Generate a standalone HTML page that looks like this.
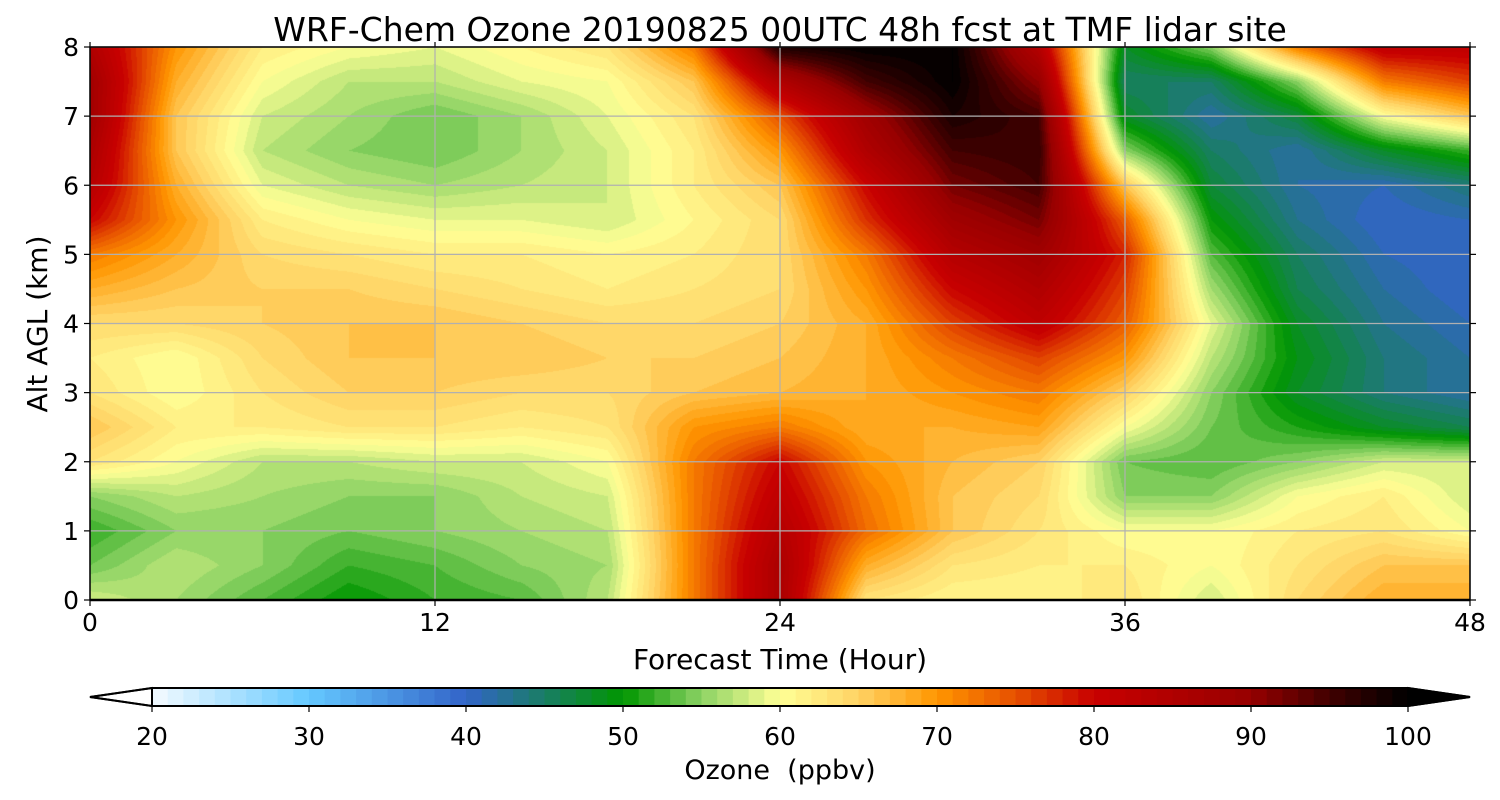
<!DOCTYPE html>
<html><head><meta charset="utf-8">
<style>
body{margin:0;background:#fff;width:1500px;height:800px;overflow:hidden;font-family:"DejaVu Sans","Liberation Sans",sans-serif;}
#wrap{position:relative;width:1500px;height:800px;}
canvas{position:absolute;left:90px;top:47px;}
svg{position:absolute;left:0;top:0;font-family:"DejaVu Sans","Liberation Sans",sans-serif;}
</style></head><body>
<div id="wrap">
<canvas id="cv" width="1380" height="553"></canvas>
<svg id="sv" width="1500" height="800"></svg>
</div>
<script>
const times=[0,3,6,9,12,15,18,21,24,27,30,33,36,39,42,45,48];
const alts=[8,7.5,7,6.5,6,5.5,5,4.5,4,3.5,3,2.5,2,1.5,1,0.5,0];
const ozone=[
[85,70,62,60,59,61,63,72,98,100,100,84,48,55,72,82,82],
[88,68,60,57,57,59,60,66,85,95,100,90,45,45,55,72,76],
[88,66,58,56,54,56,59,63,75,88,98,95,48,42,47,60,66],
[86,66,57,55,54,56,58,62,70,85,95,96,55,45,42,48,52],
[84,68,59,57,56,57,58,62,66,80,92,95,66,47,42,41,44],
[80,70,62,60,59,59,58,61,64,77,88,92,74,50,43,40,41],
[72,68,64,63,62,62,61,62,64,72,84,88,78,53,45,41,40],
[68,66,65,65,64,63,62,63,64,70,80,85,76,56,46,42,40],
[64,64,65,66,66,65,64,64,65,68,76,82,74,59,48,43,41],
[62,60,64,66,66,66,65,65,66,68,72,76,70,57,49,44,42],
[63,60,63,65,65,64,64,66,67,68,70,72,65,55,48,44,42],
[66,62,62,63,63,62,63,70,72,68,68,69,60,54,51,48,46],
[63,60,57,57,58,58,60,72,80,70,67,65,54,53,55,58,58],
[55,57,56,55,55,57,58,72,82,72,66,64,55,55,60,62,58],
[52,55,55,54,55,56,57,72,84,73,66,63,60,60,62,63,60],
[54,57,55,52,53,55,56,72,86,68,63,62,62,60,63,66,66],
[58,56,53,50,52,53,57,72,86,63,61,61,63,58,64,68,68]];
const xTicks=[0,12,24,36,48];
const yTicks=[0,1,2,3,4,5,6,7,8];
const cbTicks=[20,30,40,50,60,70,80,90,100];
const cmapV=[20,30,40,50,55,60,65,70,75,80,90,95,100];
const cmapC=['#f5faff','#64c8ff','#3264c8','#009600','#8cd264','#ffff96','#ffd264','#ff9600','#e65000','#c80000','#960000','#400000','#000000'];

const X0=90,X1=1470,Y0=600,Y1=47,T0=0,T1=48,A0=0,A1=8;
const xs=t=>X0+(t-T0)/(T1-T0)*(X1-X0);
const ys=a=>Y0-(a-A0)/(A1-A0)*(Y0-Y1);
const CB0=152,CB1=1408,cbx=v=>CB0+(v-20)/80*(CB1-CB0);
function hex(h){return [1,3,5].map(i=>parseInt(h.substr(i,2),16));}
const cmapRGB=cmapC.map(hex);
function color(v){
  v=Math.floor(v)+0.5; if(v<20)v=20; if(v>100)v=100;
  for(let i=0;i<cmapV.length-1;i++){if(v<=cmapV[i+1]){const f=(v-cmapV[i])/(cmapV[i+1]-cmapV[i]);const a=cmapRGB[i],b=cmapRGB[i+1];return [0,1,2].map(k=>Math.round(a[k]+(b[k]-a[k])*f));}}
  return cmapRGB[cmapRGB.length-1];
}
function interp(arr,v){
  for(let i=0;i<arr.length-1;i++){if(v<=arr[i+1])return [i,(v-arr[i])/(arr[i+1]-arr[i])];}
  return [arr.length-2,1];
}
const altsAsc=alts.slice().reverse();
const cv=document.getElementById('cv'),ctx=cv.getContext('2d');
const W=cv.width,H=cv.height,img=ctx.createImageData(W,H);
for(let py=0;py<H;py++){
  const a=A1-(py+0.5)/H*(A1-A0);
  const [ai,af]=interp(altsAsc,a);
  const r0=ozone[alts.length-1-ai],r1=ozone[alts.length-2-ai];
  for(let px=0;px<W;px++){
    const t=(px+0.5)/W*(T1-T0);
    const [ti,tf]=interp(times,t);
    const v=(r0[ti]*(1-tf)+r0[ti+1]*tf)*(1-af)+(r1[ti]*(1-tf)+r1[ti+1]*tf)*af;
    const c=color(v),o=(py*W+px)*4;
    img.data[o]=c[0];img.data[o+1]=c[1];img.data[o+2]=c[2];img.data[o+3]=255;
  }
}
ctx.putImageData(img,0,0);

const sv=document.getElementById('sv'),NS='http://www.w3.org/2000/svg';
function mk(tag,at,txt){const e=document.createElementNS(NS,tag);for(const k in at)e.setAttribute(k,at[k]);if(txt!==undefined)e.textContent=txt;sv.appendChild(e);return e;}
let e;
xTicks.forEach(t=>{
  e=mk('line',{x1:xs(t),x2:xs(t),y1:Y1,y2:Y0,stroke:'#b0b0b0','stroke-width':1.2});
  
  e=mk('line',{x1:xs(t),x2:xs(t),y1:Y0,y2:Y0+6,stroke:'#000','stroke-width':1.2});
  
  e=mk('line',{x1:xs(t),x2:xs(t),y1:Y1,y2:Y1-5,stroke:'#000','stroke-width':1.2});
  
  e=mk('text',{x:xs(t),y:631,'text-anchor':'middle','font-size':25},String(t));
  
});
yTicks.forEach(a=>{
  e=mk('line',{x1:X0,x2:X1,y1:ys(a),y2:ys(a),stroke:'#b0b0b0','stroke-width':1.2});
  
  e=mk('line',{x1:X0-6,x2:X0,y1:ys(a),y2:ys(a),stroke:'#000','stroke-width':1.2});
  
  e=mk('line',{x1:X1,x2:X1+6,y1:ys(a),y2:ys(a),stroke:'#000','stroke-width':1.2});
  
  e=mk('text',{x:79,y:ys(a)+9,'text-anchor':'end','font-size':25},String(a));
  
});
e=mk('rect',{x:X0,y:Y1,width:X1-X0,height:Y0-Y1,fill:'none',stroke:'#000','stroke-width':1.5});

e=mk('line',{x1:X0,x2:X1,y1:Y0,y2:Y0,stroke:'#000','stroke-width':2.5});

e=mk('text',{x:780,y:41,'text-anchor':'middle','font-size':33},'WRF-Chem Ozone 20190825 00UTC 48h fcst at TMF lidar site');

e=mk('text',{x:780,y:669,'text-anchor':'middle','font-size':28},'Forecast Time (Hour)');

e=mk('text',{x:47,y:324,'text-anchor':'middle','font-size':28,transform:'rotate(-90 47 324)'},'Alt AGL (km)');

const CBY0=688,CBY1=706;
for(let v=20;v<100;v++){
  const c=color(v);
  e=mk('rect',{x:cbx(v),y:CBY0,width:cbx(v+1)-cbx(v)+0.6,height:CBY1-CBY0,fill:`rgb(${c[0]},${c[1]},${c[2]})`});
  
}
e=mk('polygon',{points:`${CB0},${CBY0} 90,${(CBY0+CBY1)/2} ${CB0},${CBY1}`,fill:'#fff',stroke:'#000','stroke-width':2});

e=mk('polygon',{points:`${CB1},${CBY0} 1470,${(CBY0+CBY1)/2} ${CB1},${CBY1}`,fill:'#000',stroke:'#000','stroke-width':2});

e=mk('polygon',{points:`${CB0},${CBY0} ${CB1},${CBY0} 1470,${(CBY0+CBY1)/2} ${CB1},${CBY1} ${CB0},${CBY1} 90,${(CBY0+CBY1)/2}`,fill:'none',stroke:'#000','stroke-width':2});

cbTicks.forEach(v=>{
  e=mk('line',{x1:cbx(v),x2:cbx(v),y1:CBY1,y2:CBY1+6,stroke:'#000','stroke-width':1.2});
  
  e=mk('text',{x:cbx(v),y:745,'text-anchor':'middle','font-size':25},String(v));
  
});
e=mk('text',{x:780,y:779,'text-anchor':'middle','font-size':27},'Ozone\u00a0\u00a0(ppbv)');

</script>
</body></html>
